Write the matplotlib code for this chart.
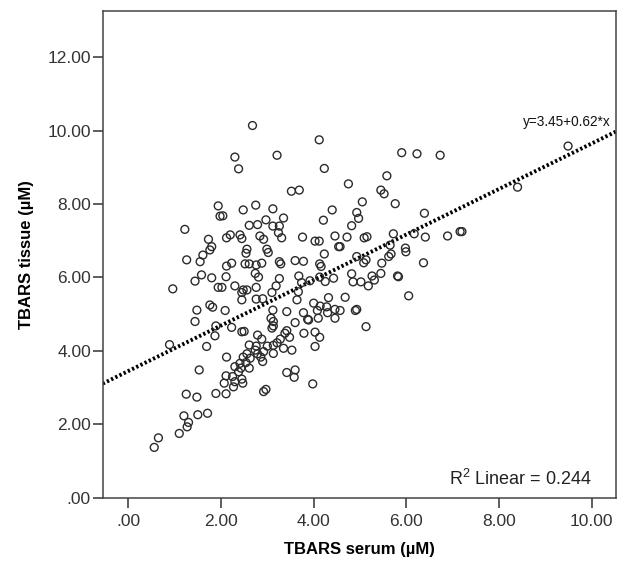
import numpy as np
import matplotlib
matplotlib.use("Agg")
import matplotlib.pyplot as plt

plt.rcParams['font.family'] = ['Liberation Sans', 'DejaVu Sans']
plt.rcParams['mathtext.fontset'] = 'custom'
plt.rcParams['mathtext.rm'] = 'Liberation Sans'

# TBARS serum vs tissue (uM), one point per sample
serum = [
    1.22, 1.94, 1.98, 1.73, 1.80,
    2.68, 4.12, 2.30, 3.21, 2.38, 4.23, 3.52, 3.69, 2.04, 2.48, 2.75, 3.12, 3.35,
    2.97, 2.79, 2.61, 3.12, 3.26, 4.40, 4.21, 2.20, 2.12, 2.41, 2.45, 2.84, 2.92,
    3.24, 3.31, 3.76, 4.03, 4.12, 4.46, 4.54, 2.56, 2.99,
    5.90, 6.23, 6.73, 5.58, 4.75, 5.45, 5.52, 5.05, 5.76, 4.93, 4.97, 6.39, 4.82,
    4.72, 5.09, 5.15, 5.72, 6.17, 6.41, 6.89, 7.16, 5.65, 5.98, 4.57,
    9.49, 8.40, 7.20,
    1.26, 1.61, 1.55, 1.76, 1.58, 1.44, 1.80, 1.94, 0.96, 1.48, 1.76, 1.82, 1.44,
    1.89, 1.87, 0.89, 1.69, 1.53, 1.25, 1.48, 1.89, 1.20, 1.30, 1.27, 1.50, 1.71,
    1.10, 0.65, 0.56,
    2.54, 3.02, 4.23, 3.26, 3.29, 3.60, 3.78, 2.12, 2.23, 2.52, 2.61, 2.76, 2.88,
    4.13, 4.16, 2.74, 2.81, 2.11, 3.26, 3.68, 3.74, 3.92, 4.13, 4.43, 4.25, 2.30,
    2.48, 2.45, 2.56, 2.76, 3.19, 3.10, 2.02, 3.67, 3.64, 2.45, 2.76, 2.90, 4.32,
    4.00, 4.14, 4.08, 4.28, 4.46, 4.30, 2.09, 3.12, 3.42, 3.78, 3.89, 4.46, 4.10,
    3.08, 3.13, 3.60, 3.87, 2.23, 3.10, 3.13, 2.45, 2.50, 3.42, 3.38, 3.79, 4.03,
    4.13, 2.79, 2.88, 3.28, 3.21, 3.48, 2.61, 2.76, 3.00, 3.13, 3.35, 3.53, 4.03,
    2.74, 2.79, 2.92, 3.13, 2.56, 2.12, 2.48, 2.63, 2.86, 2.90, 2.41, 2.54, 2.30,
    2.43, 2.61, 2.38, 3.42, 3.60, 3.58, 2.11, 2.25, 2.07, 2.30, 2.45, 2.47, 2.27,
    2.11, 2.92, 2.97, 3.98,
    4.93, 5.08, 5.13, 5.47, 5.62, 5.67, 5.99, 6.37, 4.82, 5.26, 5.45, 5.81, 5.83,
    4.85, 5.02, 5.31, 5.18, 4.68, 6.05, 4.57, 4.90, 4.93, 5.13,
]
tissue = [
    7.31, 7.95, 7.67, 7.04, 6.84,
    10.14, 9.75, 9.28, 9.33, 8.96, 8.97, 8.35, 8.38, 7.68, 7.84, 7.97, 7.87, 7.62,
    7.57, 7.44, 7.42, 7.40, 7.40, 7.84, 7.56, 7.16, 7.08, 7.16, 7.06, 7.13, 7.04,
    7.22, 7.08, 7.10, 6.99, 6.99, 7.13, 6.84, 6.77, 6.77,
    9.40, 9.37, 9.33, 8.77, 8.55, 8.38, 8.28, 8.06, 8.01, 7.77, 7.61, 7.75, 7.41,
    7.10, 7.08, 7.11, 7.19, 7.19, 7.10, 7.13, 7.25, 6.88, 6.80, 6.84,
    9.58, 8.46, 7.25,
    6.48, 6.61, 6.43, 6.75, 6.07, 5.90, 5.99, 5.73, 5.69, 5.11, 5.25, 5.19, 4.80,
    4.68, 4.41, 4.17, 4.12, 3.48, 2.82, 2.74, 2.84, 2.23, 2.05, 1.93, 2.26, 2.30,
    1.75, 1.63, 1.37,
    6.66, 6.68, 6.64, 6.43, 6.37, 6.46, 6.44, 6.31, 6.39, 6.37, 6.37, 6.34, 6.39,
    6.37, 6.30, 6.11, 6.01, 6.02, 5.97, 6.04, 5.86, 5.91, 6.01, 5.98, 5.89, 5.77,
    5.66, 5.59, 5.66, 5.73, 5.77, 5.59, 5.73, 5.61, 5.39, 5.39, 5.41, 5.42, 5.45,
    5.30, 5.22, 5.10, 5.20, 5.13, 5.04, 5.10, 5.11, 5.07, 5.04, 4.84, 4.89, 4.89,
    4.89, 4.80, 4.77, 4.86, 4.64, 4.62, 4.68, 4.52, 4.53, 4.55, 4.48, 4.48, 4.51,
    4.37, 4.43, 4.32, 4.32, 4.22, 4.37, 4.16, 4.13, 4.13, 4.15, 4.07, 4.02, 4.12,
    4.02, 3.92, 3.98, 3.93, 3.92, 3.83, 3.83, 3.80, 3.83, 3.71, 3.66, 3.68, 3.57,
    3.53, 3.53, 3.43, 3.41, 3.48, 3.28, 3.32, 3.30, 3.12, 3.16, 3.23, 3.12, 3.02,
    2.83, 2.89, 2.95, 3.10,
    6.57, 6.40, 6.48, 6.39, 6.57, 6.64, 6.70, 6.40, 6.10, 6.04, 6.11, 6.04, 6.02,
    5.88, 5.88, 5.93, 5.77, 5.46, 5.50, 5.10, 5.10, 5.13, 4.66,
]

# fitted line y = 3.45 + 0.62x
intercept = 3.45
slope = 0.62
r_squared = 0.244

xticks = [0, 2, 4, 6, 8, 10]
yticks = [0, 2, 4, 6, 8, 10, 12]
xmin, xmax = -0.552, 10.518
ymin, ymax = 0, 13.26

fig = plt.figure(figsize=(6.24, 5.64), dpi=100)
ax = fig.add_axes([0.1646, 0.1176, 0.8221, 0.8629])

ax.scatter(serum, tissue, s=32, facecolors='none', edgecolors='#2b2b2b',
           linewidths=1.0, zorder=3)

fx = np.array([xmin, xmax])
ax.plot(fx, intercept + slope * fx, color='black', lw=2.8,
        linestyle=(0, (0.6, 0.6)), dash_capstyle='butt', zorder=2)

ax.text(8.52, 10.13, 'y=3.45+0.62*x', fontsize=9.8, color='#111111',
        ha='left', va='baseline')
ax.text(10.0, 0.35, r'R$^{\mathregular{2}}$ Linear = %.3f' % r_squared,
        fontsize=13, color='#222222', ha='right', va='baseline')

ax.set_xlim(xmin, xmax)
ax.set_ylim(ymin, ymax)
ax.set_xticks(xticks)
ax.set_yticks(yticks)
ax.set_xticklabels(['%.2f' % v if v else '.00' for v in xticks])
ax.set_yticklabels(['%.2f' % v if v else '.00' for v in yticks])
ax.tick_params(axis='both', direction='out', length=7.5, width=1.1,
               color='#333333', labelsize=12.5, labelcolor='#333333')
ax.tick_params(axis='x', pad=4.5)
ax.tick_params(axis='y', pad=1)
ax.tick_params(top=False, right=False)

for sp in ax.spines.values():
    sp.set_color('#444444')
    sp.set_linewidth(1.1)

ax.set_xlabel('TBARS serum (µM)', fontsize=12, fontweight='bold', labelpad=9)
ax.set_ylabel('TBARS tissue (µM)', fontsize=12, fontweight='bold', labelpad=10)

fig.savefig('out.png', dpi=100)
